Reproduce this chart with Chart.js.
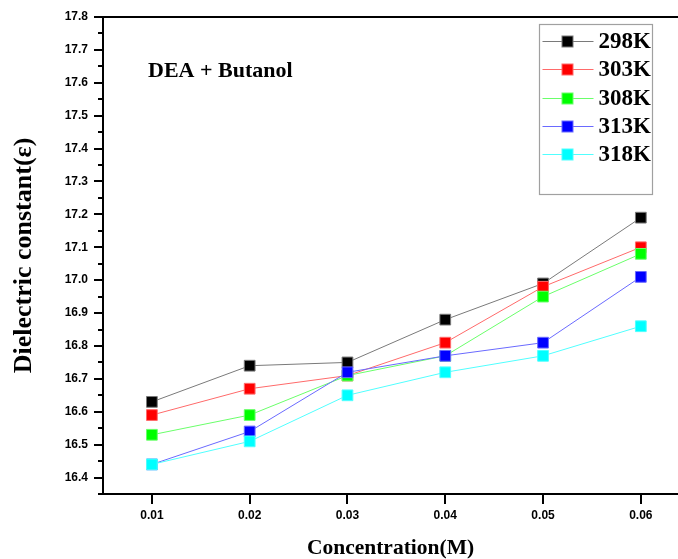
<!DOCTYPE html>
<html>
<head>
  <title>DEA + Butanol Dielectric Constant</title>
  <script src="https://cdn.jsdelivr.net/npm/chart.js"></script>
  <style>
    body { margin: 0; background: #fff; }
    #wrap { width: 678px; height: 559px; }
  </style>
</head>
<body>
  <div id="wrap"><canvas id="dielChart" width="678" height="559"></canvas></div>

  <script>
    // values
    const concentrations = [0.01, 0.02, 0.03, 0.04, 0.05, 0.06];
    const tempLabels = ['298K', '303K', '308K', '313K', '318K'];
    const eps298 = [16.63, 16.74, 16.75, 16.88, 16.99, 17.19];
    const eps303 = [16.59, 16.67, 16.71, 16.81, 16.98, 17.10];
    const eps308 = [16.53, 16.59, 16.71, 16.77, 16.95, 17.08];
    const eps313 = [16.44, 16.54, 16.72, 16.77, 16.81, 17.01];
    const eps318 = [16.44, 16.51, 16.65, 16.72, 16.77, 16.86];
    const xTicks = [0.01, 0.02, 0.03, 0.04, 0.05, 0.06];
    const yTicks = [16.4, 16.5, 16.6, 16.7, 16.8, 16.9, 17.0, 17.1, 17.2, 17.3, 17.4, 17.5, 17.6, 17.7, 17.8];

    const allSeries = [eps298, eps303, eps308, eps313, eps318];
    const markColors = ['#000000', '#ff0000', '#00ff00', '#0000ff', '#00ffff'];
    const lineColors = ['#7a7a7a', '#ff6a6a', '#6aff6a', '#6a6aff', '#50ffff'];

    const datasets = allSeries.map((vals, i) => ({
      label: tempLabels[i],
      data: vals.map((v, j) => ({ x: concentrations[j], y: v })),
      borderColor: lineColors[i],
      borderWidth: 1,
      backgroundColor: markColors[i],
      pointStyle: 'rect',
      pointRadius: 7.6,
      pointBorderWidth: 1,
      pointBorderColor: lineColors[i],
      pointBackgroundColor: markColors[i],
      tension: 0,
      order: allSeries.length - i   // later series drawn on top
    }));

    const serif = "'Liberation Serif', 'Times New Roman', serif";
    const sans = "'Liberation Sans', Arial, sans-serif";

    const extras = {
      id: 'extras',
      afterDraw(chart) {
        const { ctx, chartArea: a, scales: { y } } = chart;
        ctx.save();

        // top frame line
        ctx.strokeStyle = '#000';
        ctx.lineWidth = 2;
        ctx.beginPath();
        ctx.moveTo(a.left - 9, a.top);
        ctx.lineTo(a.right, a.top);
        ctx.stroke();

        // minor y ticks
        ctx.beginPath();
        yTicks.forEach(v => {
          const py = Math.round(y.getPixelForValue(v - 0.05));
          ctx.moveTo(a.left - 5, py);
          ctx.lineTo(a.left, py);
        });
        ctx.stroke();

        // label inside the plot
        ctx.fillStyle = '#000';
        ctx.font = 'bold 22px ' + serif;
        ctx.textAlign = 'left';
        ctx.textBaseline = 'middle';
        ctx.fillText('DEA + Butanol', a.left + 45, 71);

        // legend box
        const bx = 539.5, by = 24.5, bw = 113, bh = 170;
        ctx.strokeStyle = '#a0a0a0';
        ctx.lineWidth = 1.2;
        ctx.strokeRect(bx, by, bw, bh);

        chart.data.datasets.forEach((ds, i) => {
          const ry = Math.round(41 + i * 28.3) + 0.5;
          ctx.strokeStyle = ds.borderColor;
          ctx.lineWidth = 1;
          ctx.beginPath();
          ctx.moveTo(bx + 3, ry);
          ctx.lineTo(bx + 54, ry);
          ctx.stroke();
          ctx.fillStyle = ds.pointBackgroundColor;
          ctx.fillRect(bx + 22.5, ry - 5.5, 11, 11);
          ctx.strokeStyle = ds.pointBorderColor;
          ctx.strokeRect(bx + 22.5, ry - 5.5, 11, 11);
          ctx.fillStyle = '#000';
          ctx.font = 'bold 23px ' + serif;
          ctx.fillText(ds.label, bx + 59, ry + 1);
        });

        ctx.restore();
      }
    };

    const chart = new Chart(document.getElementById('dielChart'), {
      type: 'line',
      data: { datasets: datasets },
      plugins: [extras],
      options: {
        responsive: false,
        animation: false,
        layout: { autoPadding: false, padding: { top: 17, right: 0, left: 0, bottom: 0 } },
        plugins: {
          legend: { display: false },
          tooltip: { enabled: false }
        },
        scales: {
          x: {
            type: 'linear',
            min: 0.005,
            max: 0.0638,
            afterBuildTicks: s => { s.ticks = xTicks.map(v => ({ value: v })); },
            afterFit: s => { s.height = 65; s.paddingLeft = 0; s.paddingRight = 0; },
            border: { display: true, color: '#000', width: 2 },
            grid: { drawOnChartArea: false, drawTicks: true, tickLength: 10, tickColor: '#000', lineWidth: 2 },
            ticks: {
              color: '#000',
              padding: 4,
              maxRotation: 0,
              font: { family: sans, size: 12, weight: 'bold' },
              callback: v => v.toFixed(2)
            },
            title: {
              display: true,
              text: 'Concentration(M)',
              color: '#000',
              font: { family: serif, size: 21.5, weight: 'bold', lineHeight: 1 },
              padding: { top: 0, bottom: 0 }
            }
          },
          y: {
            type: 'linear',
            min: 16.35,
            max: 17.8,
            afterBuildTicks: s => { s.ticks = yTicks.map(v => ({ value: v })); },
            afterFit: s => { s.width = 103; },
            border: { display: true, color: '#000', width: 2 },
            grid: { drawOnChartArea: false, drawTicks: true, tickLength: 9, tickColor: '#000', lineWidth: 2 },
            ticks: {
              color: '#000',
              padding: 6,
              font: { family: sans, size: 12, weight: 'bold' },
              callback: v => v.toFixed(1)
            },
            title: {
              display: true,
              text: 'Dielectric constant(ε)',
              color: '#000',
              font: { family: serif, size: 26, weight: 'bold', lineHeight: 1 },
              padding: { top: 11, bottom: 0 }
            }
          }
        }
      }
    });
  </script>
</body>
</html>
